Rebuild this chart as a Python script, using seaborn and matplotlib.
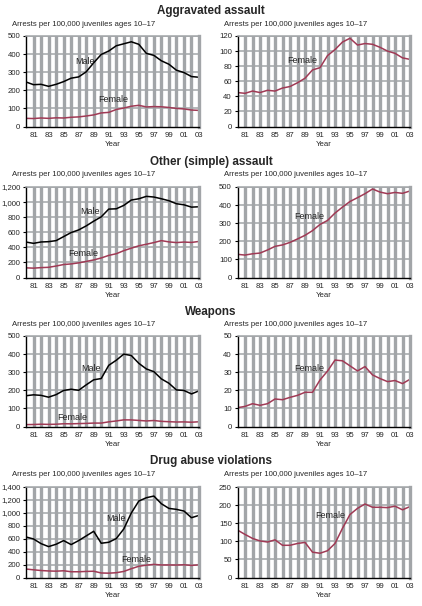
import matplotlib
matplotlib.use("Agg")
import matplotlib.pyplot as plt
import seaborn as sns
import pandas as pd
import numpy as np

sns.set_theme(style="white")
plt.rcParams['font.family'] = ['Liberation Sans', 'DejaVu Sans']

years = list(range(1980, 2004))

agg_male = [246, 231, 233, 222, 233, 248, 267, 274, 302, 352, 398, 417, 446, 457, 468, 454, 404, 393, 363, 344, 311, 298, 276, 272]
agg_female = [45, 44, 47, 45, 48, 47, 51, 53, 58, 64, 75, 78, 94, 102, 112, 117, 108, 110, 109, 105, 100, 97, 91, 89]

sim_male = [470, 453, 471, 475, 489, 542, 596, 631, 684, 747, 804, 907, 911, 956, 1027, 1044, 1076, 1067, 1044, 1018, 978, 964, 933, 938]
sim_female = [128, 124, 131, 135, 152, 172, 180, 194, 213, 233, 259, 293, 315, 356, 389, 420, 441, 463, 489, 472, 463, 470, 465, 478]

weap_male = [170, 175, 172, 162, 176, 199, 206, 200, 230, 258, 265, 338, 366, 400, 392, 349, 318, 303, 263, 239, 202, 199, 180, 197]
weap_female = [10.4, 11.1, 12.6, 11.7, 12.6, 15.2, 14.8, 16.1, 17.2, 18.9, 18.9, 25.7, 30.6, 36.7, 36.3, 33.5, 30.7, 33.1, 28.5, 26.5, 24.8, 25.4, 23.7, 26.1]

drug_male = [627, 596, 524, 478, 514, 571, 509, 571, 643, 715, 530, 545, 602, 751, 998, 1183, 1234, 1260, 1141, 1069, 1054, 1028, 925, 961]
drug_female = [131, 119, 108, 101, 98, 104, 89, 89, 94, 97, 70, 67, 74, 94, 136, 174, 191, 203, 194, 194, 193, 197, 187, 196]

titles = ["Aggravated assault", "Other (simple) assault", "Weapons", "Drug abuse violations"]
subtitle = "Arrests per 100,000 juveniles ages 10\u201317"
xtick_years = [1981, 1983, 1985, 1987, 1989, 1991, 1993, 1995, 1997, 1999, 2001, 2003]
xtick_labels = ["81", "83", "85", "87", "89", "91", "93", "95", "97", "99", "01", "03"]

rows = [
    dict(male=agg_male, female=agg_female, lmax=500, lstep=100, rmax=120, rstep=20,
         male_lbl=(1987.8, 360), fem_lbl_l=(1991.6, 147), fem_lbl_r=(1988.6, 87)),
    dict(male=sim_male, female=sim_female, lmax=1200, lstep=200, rmax=500, rstep=100,
         male_lbl=(1988.5, 876), fem_lbl_l=(1987.6, 320), fem_lbl_r=(1989.6, 339)),
    dict(male=weap_male, female=weap_female, lmax=500, lstep=100, rmax=50, rstep=10,
         male_lbl=(1988.7, 322), fem_lbl_l=(1986.1, 48), fem_lbl_r=(1989.6, 32)),
    dict(male=drug_male, female=drug_female, lmax=1400, lstep=200, rmax=250, rstep=50,
         male_lbl=(1992.0, 910), fem_lbl_l=(1994.6, 283), fem_lbl_r=(1992.4, 171)),
]

W, H = 422, 606
fig = plt.figure(figsize=(W / 100, H / 100), dpi=100)
fig.patch.set_facecolor("white")

FEM = "#a03a55"
GRID = "#a2a5a8"
FS = 5.6

axes_tops = [36, 187, 336, 487]
axes_h = 90.5
title_y = [11, 161.5, 311.5, 461]
sub_y = [24, 174.5, 325, 475]
lefts = [(26, 199), (237.5, 410)]


def style_axes(ax, ymax, ystep):
    ax.set_xlim(1980, 2003)
    ax.set_ylim(0, ymax)
    yt = np.arange(0, ymax + 0.1, ystep)
    ax.set_yticks(yt)
    ax.set_yticklabels([f"{int(v):,}" for v in yt], fontsize=FS)
    ax.set_xticks(xtick_years)
    ax.set_xticklabels(xtick_labels, fontsize=FS)
    for y in yt[1:]:
        ax.axhline(y, color=GRID, lw=1.1, zorder=0)
    for x in years[1:-1]:
        ax.axvline(x, color=GRID, lw=2.4, zorder=0)
    ax.spines["top"].set_color(GRID)
    ax.spines["right"].set_color(GRID)
    ax.spines["top"].set_linewidth(1.1)
    ax.spines["right"].set_linewidth(2.4)
    ax.spines["left"].set_color("black")
    ax.spines["bottom"].set_color("black")
    ax.spines["left"].set_linewidth(1.0)
    ax.spines["bottom"].set_linewidth(1.0)
    ax.tick_params(axis="y", which="both", length=2.5, width=0.8, color="black", pad=1.5, left=True)
    ax.tick_params(axis="x", which="both", length=0, pad=4, bottom=True)
    ax.set_xlabel("Year", fontsize=FS, labelpad=1.5)
    ax.set_ylabel("")
    leg = ax.get_legend()
    if leg is not None:
        leg.remove()


for i, r in enumerate(rows):
    top = axes_tops[i]
    fig.text(0.5, 1 - title_y[i] / H, titles[i], ha="center", va="center",
             fontsize=8.4, fontweight="bold")
    df = pd.DataFrame({"Year": years * 2,
                       "Rate": r["male"] + r["female"],
                       "Sex": ["Male"] * len(years) + ["Female"] * len(years)})
    # left panel
    x0, x1 = lefts[0]
    axl = fig.add_axes([x0 / W, 1 - (top + axes_h) / H, (x1 - x0) / W, axes_h / H])
    sns.lineplot(data=df, x="Year", y="Rate", hue="Sex",
                 palette={"Male": "black", "Female": FEM}, linewidth=1.1, ax=axl)
    style_axes(axl, r["lmax"], r["lstep"])
    axl.text(*r["male_lbl"], "Male", fontsize=6.5, ha="center", va="center")
    axl.text(*r["fem_lbl_l"], "Female", fontsize=6.5, ha="center", va="center")
    fig.text(12 / W, 1 - sub_y[i] / H, subtitle, fontsize=FS, ha="left", va="center")
    # right panel
    x0, x1 = lefts[1]
    axr = fig.add_axes([x0 / W, 1 - (top + axes_h) / H, (x1 - x0) / W, axes_h / H])
    dff = df[df["Sex"] == "Female"]
    sns.lineplot(data=dff, x="Year", y="Rate", color=FEM, linewidth=1.1, ax=axr)
    style_axes(axr, r["rmax"], r["rstep"])
    axr.text(*r["fem_lbl_r"], "Female", fontsize=6.5, ha="center", va="center")
    fig.text(223.5 / W, 1 - sub_y[i] / H, subtitle, fontsize=FS, ha="left", va="center")

fig.savefig("out.png", dpi=100, facecolor="white")
